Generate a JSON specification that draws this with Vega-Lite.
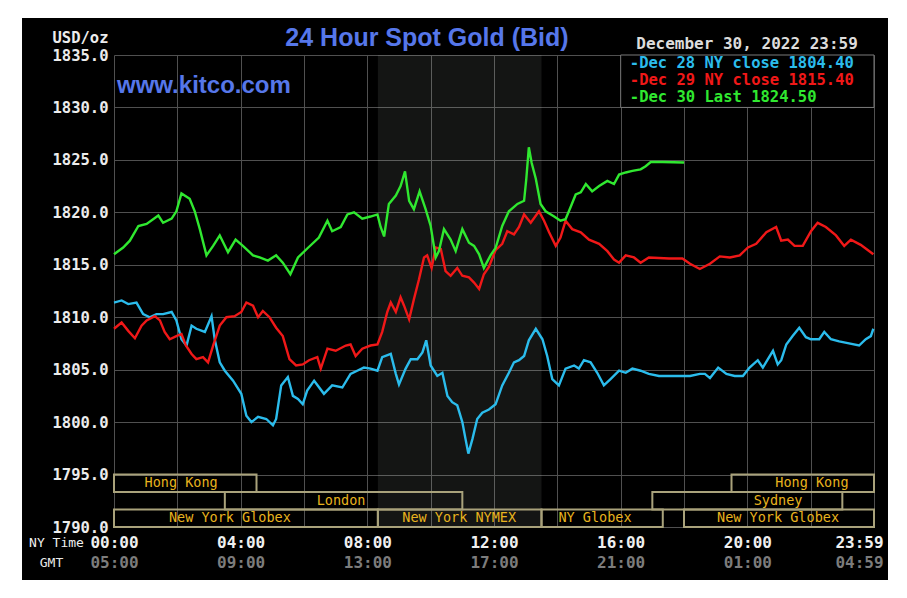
{
"$schema":"https://vega.github.io/schema/vega-lite/v6.json",
"width":760,"height":472,
"autosize":{"type":"none"},
"padding":{"left":114,"top":55,"right":33,"bottom":71},
"background":"#000000",
"config":{"view":{"stroke":null,"fill":"#000000"}},
"title":{"text":"24 Hour Spot Gold (Bid)","color":"#5677ea","font":"Liberation Sans","fontSize":25,"fontWeight":"bold","anchor":"middle","frame":"group","dx":-67,"offset":0,"dy":51},
"datasets":{
"gold":[
{"s":"Dec 28","h":0,"v":1811.4},{"s":"Dec 28","h":0.24,"v":1811.6},{"s":"Dec 28","h":0.45,"v":1811.25},{"s":"Dec 28","h":0.71,"v":1811.4},{"s":"Dec 28","h":0.92,"v":1810.3},{"s":"Dec 28","h":1.13,"v":1810.0},{"s":"Dec 28","h":1.34,"v":1810.3},{"s":"Dec 28","h":1.55,"v":1810.3},{"s":"Dec 28","h":1.82,"v":1810.5},{"s":"Dec 28","h":1.97,"v":1809.7},{"s":"Dec 28","h":2.13,"v":1807.9},{"s":"Dec 28","h":2.29,"v":1807.3},{"s":"Dec 28","h":2.45,"v":1809.2},{"s":"Dec 28","h":2.6,"v":1808.9},{"s":"Dec 28","h":2.87,"v":1808.6},{"s":"Dec 28","h":3.08,"v":1810.1},{"s":"Dec 28","h":3.18,"v":1807.9},{"s":"Dec 28","h":3.34,"v":1805.7},{"s":"Dec 28","h":3.5,"v":1804.9},{"s":"Dec 28","h":3.76,"v":1803.95},{"s":"Dec 28","h":4.02,"v":1802.7},{"s":"Dec 28","h":4.18,"v":1800.6},{"s":"Dec 28","h":4.34,"v":1800.0},{"s":"Dec 28","h":4.55,"v":1800.5},{"s":"Dec 28","h":4.81,"v":1800.3},{"s":"Dec 28","h":5.02,"v":1799.7},{"s":"Dec 28","h":5.12,"v":1800.3},{"s":"Dec 28","h":5.28,"v":1803.5},{"s":"Dec 28","h":5.49,"v":1804.3},{"s":"Dec 28","h":5.65,"v":1802.5},{"s":"Dec 28","h":5.81,"v":1802.2},{"s":"Dec 28","h":5.96,"v":1801.7},{"s":"Dec 28","h":6.1,"v":1803.0},{"s":"Dec 28","h":6.32,"v":1803.95},{"s":"Dec 28","h":6.63,"v":1802.7},{"s":"Dec 28","h":6.89,"v":1803.5},{"s":"Dec 28","h":7.21,"v":1803.3},{"s":"Dec 28","h":7.47,"v":1804.6},{"s":"Dec 28","h":7.68,"v":1804.9},{"s":"Dec 28","h":7.89,"v":1805.2},{"s":"Dec 28","h":8.1,"v":1805.1},{"s":"Dec 28","h":8.32,"v":1804.9},{"s":"Dec 28","h":8.47,"v":1806.2},{"s":"Dec 28","h":8.74,"v":1806.5},{"s":"Dec 28","h":8.9,"v":1804.6},{"s":"Dec 28","h":9.0,"v":1803.6},{"s":"Dec 28","h":9.21,"v":1805.1},{"s":"Dec 28","h":9.37,"v":1806.0},{"s":"Dec 28","h":9.58,"v":1806.0},{"s":"Dec 28","h":9.74,"v":1806.65},{"s":"Dec 28","h":9.86,"v":1807.8},{"s":"Dec 28","h":10.0,"v":1805.4},{"s":"Dec 28","h":10.21,"v":1804.4},{"s":"Dec 28","h":10.37,"v":1804.7},{"s":"Dec 28","h":10.53,"v":1802.5},{"s":"Dec 28","h":10.68,"v":1801.9},{"s":"Dec 28","h":10.84,"v":1801.6},{"s":"Dec 28","h":11.0,"v":1800.0},{"s":"Dec 28","h":11.1,"v":1798.4},{"s":"Dec 28","h":11.19,"v":1797.0},{"s":"Dec 28","h":11.32,"v":1798.4},{"s":"Dec 28","h":11.47,"v":1800.3},{"s":"Dec 28","h":11.63,"v":1800.9},{"s":"Dec 28","h":11.84,"v":1801.2},{"s":"Dec 28","h":12.05,"v":1801.7},{"s":"Dec 28","h":12.26,"v":1803.5},{"s":"Dec 28","h":12.47,"v":1804.7},{"s":"Dec 28","h":12.63,"v":1805.7},{"s":"Dec 28","h":12.79,"v":1805.9},{"s":"Dec 28","h":12.95,"v":1806.3},{"s":"Dec 28","h":13.1,"v":1807.8},{"s":"Dec 28","h":13.32,"v":1808.9},{"s":"Dec 28","h":13.53,"v":1807.9},{"s":"Dec 28","h":13.68,"v":1806.3},{"s":"Dec 28","h":13.84,"v":1804.1},{"s":"Dec 28","h":14.05,"v":1803.5},{"s":"Dec 28","h":14.26,"v":1805.1},{"s":"Dec 28","h":14.53,"v":1805.4},{"s":"Dec 28","h":14.68,"v":1805.1},{"s":"Dec 28","h":14.84,"v":1805.9},{"s":"Dec 28","h":15.05,"v":1805.7},{"s":"Dec 28","h":15.26,"v":1804.7},{"s":"Dec 28","h":15.47,"v":1803.5},{"s":"Dec 28","h":15.68,"v":1804.1},{"s":"Dec 28","h":15.95,"v":1804.9},{"s":"Dec 28","h":16.16,"v":1804.7},{"s":"Dec 28","h":16.37,"v":1805.1},{"s":"Dec 28","h":16.63,"v":1804.9},{"s":"Dec 28","h":16.89,"v":1804.6},{"s":"Dec 28","h":17.21,"v":1804.4},{"s":"Dec 28","h":17.63,"v":1804.4},{"s":"Dec 28","h":17.95,"v":1804.4},{"s":"Dec 28","h":18.19,"v":1804.4},{"s":"Dec 28","h":18.5,"v":1804.6},{"s":"Dec 28","h":18.66,"v":1804.6},{"s":"Dec 28","h":18.82,"v":1804.2},{"s":"Dec 28","h":19.08,"v":1805.2},{"s":"Dec 28","h":19.34,"v":1804.6},{"s":"Dec 28","h":19.6,"v":1804.4},{"s":"Dec 28","h":19.86,"v":1804.4},{"s":"Dec 28","h":20.07,"v":1805.2},{"s":"Dec 28","h":20.33,"v":1805.9},{"s":"Dec 28","h":20.49,"v":1805.2},{"s":"Dec 28","h":20.65,"v":1806.0},{"s":"Dec 28","h":20.81,"v":1806.8},{"s":"Dec 28","h":20.96,"v":1805.5},{"s":"Dec 28","h":21.07,"v":1805.9},{"s":"Dec 28","h":21.23,"v":1807.4},{"s":"Dec 28","h":21.43,"v":1808.2},{"s":"Dec 28","h":21.64,"v":1809.0},{"s":"Dec 28","h":21.85,"v":1808.1},{"s":"Dec 28","h":22.01,"v":1807.9},{"s":"Dec 28","h":22.27,"v":1807.9},{"s":"Dec 28","h":22.43,"v":1808.6},{"s":"Dec 28","h":22.64,"v":1807.9},{"s":"Dec 28","h":22.9,"v":1807.7},{"s":"Dec 28","h":23.21,"v":1807.5},{"s":"Dec 28","h":23.53,"v":1807.3},{"s":"Dec 28","h":23.74,"v":1807.9},{"s":"Dec 28","h":23.9,"v":1808.2},{"s":"Dec 28","h":23.98,"v":1808.9},
{"s":"Dec 29","h":0,"v":1808.9},{"s":"Dec 29","h":0.24,"v":1809.5},{"s":"Dec 29","h":0.45,"v":1808.7},{"s":"Dec 29","h":0.66,"v":1808.0},{"s":"Dec 29","h":0.87,"v":1809.2},{"s":"Dec 29","h":1.03,"v":1809.7},{"s":"Dec 29","h":1.29,"v":1810.1},{"s":"Dec 29","h":1.45,"v":1809.7},{"s":"Dec 29","h":1.6,"v":1808.6},{"s":"Dec 29","h":1.76,"v":1807.9},{"s":"Dec 29","h":1.97,"v":1808.2},{"s":"Dec 29","h":2.13,"v":1808.4},{"s":"Dec 29","h":2.27,"v":1807.3},{"s":"Dec 29","h":2.45,"v":1806.5},{"s":"Dec 29","h":2.6,"v":1806.0},{"s":"Dec 29","h":2.81,"v":1806.2},{"s":"Dec 29","h":2.97,"v":1805.7},{"s":"Dec 29","h":3.13,"v":1807.3},{"s":"Dec 29","h":3.34,"v":1809.2},{"s":"Dec 29","h":3.55,"v":1810.0},{"s":"Dec 29","h":3.81,"v":1810.1},{"s":"Dec 29","h":4.02,"v":1810.5},{"s":"Dec 29","h":4.18,"v":1811.4},{"s":"Dec 29","h":4.39,"v":1811.1},{"s":"Dec 29","h":4.55,"v":1810.0},{"s":"Dec 29","h":4.7,"v":1810.6},{"s":"Dec 29","h":4.91,"v":1810.0},{"s":"Dec 29","h":5.12,"v":1809.0},{"s":"Dec 29","h":5.33,"v":1808.2},{"s":"Dec 29","h":5.54,"v":1806.0},{"s":"Dec 29","h":5.75,"v":1805.4},{"s":"Dec 29","h":5.96,"v":1805.5},{"s":"Dec 29","h":6.16,"v":1805.9},{"s":"Dec 29","h":6.42,"v":1806.2},{"s":"Dec 29","h":6.53,"v":1805.1},{"s":"Dec 29","h":6.74,"v":1807.0},{"s":"Dec 29","h":7.0,"v":1806.8},{"s":"Dec 29","h":7.32,"v":1807.3},{"s":"Dec 29","h":7.47,"v":1807.4},{"s":"Dec 29","h":7.63,"v":1806.3},{"s":"Dec 29","h":7.84,"v":1807.0},{"s":"Dec 29","h":8.1,"v":1807.3},{"s":"Dec 29","h":8.32,"v":1807.4},{"s":"Dec 29","h":8.47,"v":1808.6},{"s":"Dec 29","h":8.63,"v":1810.5},{"s":"Dec 29","h":8.74,"v":1811.4},{"s":"Dec 29","h":8.9,"v":1810.5},{"s":"Dec 29","h":9.05,"v":1811.9},{"s":"Dec 29","h":9.16,"v":1811.1},{"s":"Dec 29","h":9.32,"v":1809.8},{"s":"Dec 29","h":9.47,"v":1811.7},{"s":"Dec 29","h":9.63,"v":1813.6},{"s":"Dec 29","h":9.79,"v":1815.7},{"s":"Dec 29","h":9.89,"v":1815.9},{"s":"Dec 29","h":10.03,"v":1814.7},{"s":"Dec 29","h":10.16,"v":1816.65},{"s":"Dec 29","h":10.32,"v":1816.5},{"s":"Dec 29","h":10.47,"v":1814.4},{"s":"Dec 29","h":10.63,"v":1813.95},{"s":"Dec 29","h":10.84,"v":1814.7},{"s":"Dec 29","h":11.0,"v":1813.95},{"s":"Dec 29","h":11.21,"v":1813.8},{"s":"Dec 29","h":11.37,"v":1813.3},{"s":"Dec 29","h":11.53,"v":1812.7},{"s":"Dec 29","h":11.68,"v":1814.1},{"s":"Dec 29","h":11.84,"v":1814.8},{"s":"Dec 29","h":12.05,"v":1816.4},{"s":"Dec 29","h":12.26,"v":1817.0},{"s":"Dec 29","h":12.42,"v":1818.2},{"s":"Dec 29","h":12.63,"v":1817.9},{"s":"Dec 29","h":12.79,"v":1818.6},{"s":"Dec 29","h":12.95,"v":1819.8},{"s":"Dec 29","h":13.16,"v":1819.0},{"s":"Dec 29","h":13.42,"v":1820.1},{"s":"Dec 29","h":13.58,"v":1819.2},{"s":"Dec 29","h":13.74,"v":1818.1},{"s":"Dec 29","h":13.95,"v":1816.8},{"s":"Dec 29","h":14.1,"v":1817.6},{"s":"Dec 29","h":14.26,"v":1819.2},{"s":"Dec 29","h":14.47,"v":1818.4},{"s":"Dec 29","h":14.74,"v":1818.1},{"s":"Dec 29","h":15.0,"v":1817.4},{"s":"Dec 29","h":15.32,"v":1817.0},{"s":"Dec 29","h":15.58,"v":1816.3},{"s":"Dec 29","h":15.79,"v":1815.5},{"s":"Dec 29","h":15.95,"v":1815.2},{"s":"Dec 29","h":16.16,"v":1815.9},{"s":"Dec 29","h":16.42,"v":1815.7},{"s":"Dec 29","h":16.63,"v":1815.2},{"s":"Dec 29","h":16.89,"v":1815.7},{"s":"Dec 29","h":17.53,"v":1815.6},{"s":"Dec 29","h":17.95,"v":1815.6},{"s":"Dec 29","h":18.19,"v":1815.1},{"s":"Dec 29","h":18.5,"v":1814.6},{"s":"Dec 29","h":18.82,"v":1815.1},{"s":"Dec 29","h":19.13,"v":1815.8},{"s":"Dec 29","h":19.45,"v":1815.7},{"s":"Dec 29","h":19.76,"v":1815.9},{"s":"Dec 29","h":20.02,"v":1816.65},{"s":"Dec 29","h":20.28,"v":1817.0},{"s":"Dec 29","h":20.6,"v":1818.1},{"s":"Dec 29","h":20.91,"v":1818.6},{"s":"Dec 29","h":21.07,"v":1817.3},{"s":"Dec 29","h":21.28,"v":1817.4},{"s":"Dec 29","h":21.49,"v":1816.8},{"s":"Dec 29","h":21.75,"v":1816.8},{"s":"Dec 29","h":22.01,"v":1818.2},{"s":"Dec 29","h":22.22,"v":1819.0},{"s":"Dec 29","h":22.48,"v":1818.6},{"s":"Dec 29","h":22.8,"v":1817.8},{"s":"Dec 29","h":23.06,"v":1816.8},{"s":"Dec 29","h":23.27,"v":1817.4},{"s":"Dec 29","h":23.58,"v":1816.9},{"s":"Dec 29","h":23.98,"v":1816.0},
{"s":"Dec 30","h":0,"v":1816.0},{"s":"Dec 30","h":0.29,"v":1816.65},{"s":"Dec 30","h":0.5,"v":1817.3},{"s":"Dec 30","h":0.77,"v":1818.7},{"s":"Dec 30","h":1.03,"v":1818.9},{"s":"Dec 30","h":1.4,"v":1819.7},{"s":"Dec 30","h":1.55,"v":1819.0},{"s":"Dec 30","h":1.82,"v":1819.4},{"s":"Dec 30","h":1.97,"v":1820.1},{"s":"Dec 30","h":2.13,"v":1821.8},{"s":"Dec 30","h":2.39,"v":1821.3},{"s":"Dec 30","h":2.55,"v":1820.1},{"s":"Dec 30","h":2.71,"v":1818.4},{"s":"Dec 30","h":2.92,"v":1815.9},{"s":"Dec 30","h":3.13,"v":1816.8},{"s":"Dec 30","h":3.34,"v":1817.8},{"s":"Dec 30","h":3.6,"v":1816.2},{"s":"Dec 30","h":3.84,"v":1817.4},{"s":"Dec 30","h":4.07,"v":1816.8},{"s":"Dec 30","h":4.39,"v":1815.9},{"s":"Dec 30","h":4.6,"v":1815.7},{"s":"Dec 30","h":4.86,"v":1815.4},{"s":"Dec 30","h":5.12,"v":1815.9},{"s":"Dec 30","h":5.33,"v":1815.2},{"s":"Dec 30","h":5.57,"v":1814.1},{"s":"Dec 30","h":5.81,"v":1815.7},{"s":"Dec 30","h":6.12,"v":1816.6},{"s":"Dec 30","h":6.47,"v":1817.6},{"s":"Dec 30","h":6.74,"v":1819.2},{"s":"Dec 30","h":6.89,"v":1818.2},{"s":"Dec 30","h":7.16,"v":1818.6},{"s":"Dec 30","h":7.37,"v":1819.8},{"s":"Dec 30","h":7.58,"v":1820.0},{"s":"Dec 30","h":7.84,"v":1819.4},{"s":"Dec 30","h":8.1,"v":1819.6},{"s":"Dec 30","h":8.32,"v":1819.8},{"s":"Dec 30","h":8.42,"v":1818.6},{"s":"Dec 30","h":8.53,"v":1817.7},{"s":"Dec 30","h":8.68,"v":1820.8},{"s":"Dec 30","h":8.9,"v":1821.6},{"s":"Dec 30","h":9.05,"v":1822.5},{"s":"Dec 30","h":9.19,"v":1823.9},{"s":"Dec 30","h":9.32,"v":1821.1},{"s":"Dec 30","h":9.47,"v":1820.3},{"s":"Dec 30","h":9.65,"v":1822.0},{"s":"Dec 30","h":9.84,"v":1820.3},{"s":"Dec 30","h":10.0,"v":1818.7},{"s":"Dec 30","h":10.16,"v":1815.7},{"s":"Dec 30","h":10.26,"v":1816.3},{"s":"Dec 30","h":10.42,"v":1818.4},{"s":"Dec 30","h":10.63,"v":1817.4},{"s":"Dec 30","h":10.79,"v":1816.3},{"s":"Dec 30","h":11.0,"v":1818.4},{"s":"Dec 30","h":11.21,"v":1817.1},{"s":"Dec 30","h":11.37,"v":1816.8},{"s":"Dec 30","h":11.53,"v":1816.0},{"s":"Dec 30","h":11.68,"v":1814.7},{"s":"Dec 30","h":11.89,"v":1815.9},{"s":"Dec 30","h":12.05,"v":1816.6},{"s":"Dec 30","h":12.26,"v":1818.7},{"s":"Dec 30","h":12.47,"v":1820.1},{"s":"Dec 30","h":12.74,"v":1820.8},{"s":"Dec 30","h":12.95,"v":1821.1},{"s":"Dec 30","h":13.02,"v":1823.2},{"s":"Dec 30","h":13.1,"v":1826.2},{"s":"Dec 30","h":13.19,"v":1824.7},{"s":"Dec 30","h":13.32,"v":1823.2},{"s":"Dec 30","h":13.47,"v":1820.8},{"s":"Dec 30","h":13.63,"v":1820.1},{"s":"Dec 30","h":13.9,"v":1819.6},{"s":"Dec 30","h":14.1,"v":1819.2},{"s":"Dec 30","h":14.26,"v":1819.35},{"s":"Dec 30","h":14.42,"v":1820.5},{"s":"Dec 30","h":14.58,"v":1821.7},{"s":"Dec 30","h":14.74,"v":1821.9},{"s":"Dec 30","h":14.9,"v":1822.7},{"s":"Dec 30","h":15.1,"v":1822.0},{"s":"Dec 30","h":15.32,"v":1822.5},{"s":"Dec 30","h":15.58,"v":1823.0},{"s":"Dec 30","h":15.79,"v":1822.7},{"s":"Dec 30","h":15.95,"v":1823.6},{"s":"Dec 30","h":16.16,"v":1823.8},{"s":"Dec 30","h":16.37,"v":1823.95},{"s":"Dec 30","h":16.63,"v":1824.1},{"s":"Dec 30","h":16.79,"v":1824.4},{"s":"Dec 30","h":16.95,"v":1824.8},{"s":"Dec 30","h":17.32,"v":1824.8},{"s":"Dec 30","h":18.0,"v":1824.75}
],
"sessions":[
{"session":"Hong Kong","start":0,"end":4.5,"top":1795,"bottom":1793.333,"label_at":2.12},
{"session":"London","start":3.5,"end":11.0,"top":1793.333,"bottom":1791.667,"label_at":7.17},
{"session":"New York Globex","start":0,"end":8.333,"top":1791.667,"bottom":1790,"label_at":3.66},
{"session":"New York NYMEX","start":8.333,"end":13.5,"top":1791.667,"bottom":1790,"label_at":10.9},
{"session":"NY Globex","start":13.5,"end":17.33,"top":1791.667,"bottom":1790,"label_at":15.19},
{"session":"Sydney","start":17.0,"end":23.0,"top":1793.333,"bottom":1791.667,"label_at":20.97},
{"session":"New York Globex","start":18.0,"end":24,"top":1791.667,"bottom":1790,"label_at":20.97},
{"session":"Hong Kong","start":19.5,"end":24,"top":1795,"bottom":1793.333,"label_at":22.04}
]
},
"layer":[
{"data":{"name":"sessions"},
 "transform":[{"filter":"datum.session == 'New York NYMEX'"}],
 "mark":{"type":"rect","fill":"#dfeadf","opacity":0.09},
 "encoding":{
  "x":{"field":"start","type":"quantitative","scale":{"domain":[0,24],"nice":false,"zero":false},"axis":null},
  "x2":{"field":"end"},
  "y":{"datum":1790,"type":"quantitative","scale":{"domain":[1790,1835],"nice":false,"zero":false},"axis":null},
  "y2":{"datum":1835}
 }},
{"data":{"name":"sessions"},
 "mark":{"type":"rect","filled":false,"color":"#a9a27b","strokeWidth":2},
 "encoding":{
  "x":{"field":"start","type":"quantitative","scale":{"domain":[0,24],"nice":false,"zero":false},
   "axis":{"orient":"bottom","values":[0,4,8,12,16,20,24],"grid":false,"domain":false,"ticks":false,"tickSize":0,"offset":20,"labelPadding":15,"labelBaseline":"middle","labelFont":"DejaVu Sans Mono","labelFontWeight":"bold","labelFontSize":16,"labelColor":"#7c7c7c","labelFlush":false,"labelOverlap":false,"labelBound":false,
    "labelExpr":"datum.value == 24 ? '04:59' : ((((datum.value + 5) % 24) < 10 ? '0' : '') + ((datum.value + 5) % 24) + ':00')",
    "labelOffset":{"condition":{"test":"datum.value == 24","value":-15},"value":0},
    "title":"GMT","titleX":-63,"titleY":15,"titleAlign":"center","titleBaseline":"middle","titleAngle":0,"titleFont":"DejaVu Sans Mono","titleFontWeight":"normal","titleFontSize":13,"titleColor":"#e8e8e8"}},
  "x2":{"field":"end"},
  "y":{"field":"top","type":"quantitative","scale":{"domain":[1790,1835],"nice":false,"zero":false},"axis":null},
  "y2":{"field":"bottom"}
 }},
{"data":{"name":"sessions"},
 "transform":[{"calculate":"(datum.top + datum.bottom) / 2","as":"mid"}],
 "mark":{"type":"text","font":"DejaVu Sans Mono","fontSize":13.5,"color":"#e8b31e","align":"center","baseline":"middle"},
 "encoding":{
  "x":{"field":"label_at","type":"quantitative","scale":{"domain":[0,24],"nice":false,"zero":false},"axis":null},
  "y":{"field":"mid","type":"quantitative","scale":{"domain":[1790,1835],"nice":false,"zero":false},"axis":null},
  "text":{"field":"session"}
 }},
{"data":{"name":"gold"},
 "mark":{"type":"line","strokeWidth":2.4},
 "encoding":{
  "x":{"field":"h","type":"quantitative","scale":{"domain":[0,24],"nice":false,"zero":false},
   "axis":{"orient":"bottom","values":[0,2,4,6,8,10,12,14,16,18,20,22,24],"grid":true,"gridColor":"#505050","gridWidth":1,"domain":false,"ticks":false,"tickSize":0,"labelPadding":15,"labelBaseline":"middle","labelFont":"DejaVu Sans Mono","labelFontWeight":"bold","labelFontSize":16,"labelColor":"#f0f0f0","labelFlush":false,"labelOverlap":false,"labelBound":false,
    "labelExpr":"datum.value == 24 ? '23:59' : (datum.value % 4 == 0 ? ((datum.value < 10 ? '0' : '') + datum.value + ':00') : '')",
    "labelOffset":{"condition":{"test":"datum.value == 24","value":-15},"value":0},
    "title":"NY Time","titleX":-58,"titleY":15,"titleAlign":"center","titleBaseline":"middle","titleAngle":0,"titleFont":"DejaVu Sans Mono","titleFontWeight":"normal","titleFontSize":13,"titleColor":"#f0f0f0"}},
  "y":{"field":"v","type":"quantitative","scale":{"domain":[1790,1835],"nice":false,"zero":false},
   "axis":{"orient":"left","values":[1790,1795,1800,1805,1810,1815,1820,1825,1830,1835],"grid":true,"gridColor":"#505050","gridWidth":1,"domain":false,"ticks":false,"tickSize":0,"labelPadding":6,"format":".1f","labelFont":"DejaVu Sans Mono","labelFontWeight":"bold","labelFontSize":15.5,"labelColor":"#ececec","labelOverlap":false,"labelBound":false,"labelFlush":false,
    "title":"USD/oz","titleAngle":0,"titleX":-6,"titleY":-18,"titleAlign":"right","titleBaseline":"middle","titleFont":"DejaVu Sans Mono","titleFontWeight":"bold","titleFontSize":15.5,"titleColor":"#ececec"}},
  "color":{"field":"s","type":"nominal","scale":{"domain":["Dec 28","Dec 29","Dec 30"],"range":["#2bbcec","#f01818","#30e830"]},"legend":null}
 }},
{"data":{"values":[{}]},
 "mark":{"type":"rect","fill":"#000000","stroke":"#7a7a7a","strokeWidth":1,"clip":false},
 "encoding":{
  "x":{"datum":16.0,"type":"quantitative","scale":{"domain":[0,24],"nice":false,"zero":false},"axis":null},
  "x2":{"datum":24},
  "y":{"datum":1830,"type":"quantitative","scale":{"domain":[1790,1835],"nice":false,"zero":false},"axis":null},
  "y2":{"datum":1835}
 }},
{"data":{"values":[{}]},
 "mark":{"type":"text","text":"-Dec 28 NY close 1804.40","font":"DejaVu Sans Mono","fontWeight":"bold","fontSize":15.5,"color":"#2bbcec","align":"left","baseline":"middle","clip":false},
 "encoding":{
  "x":{"datum":16.29,"type":"quantitative","scale":{"domain":[0,24],"nice":false,"zero":false},"axis":null},
  "y":{"datum":1834.24,"type":"quantitative","scale":{"domain":[1790,1835],"nice":false,"zero":false},"axis":null}
 }},
{"data":{"values":[{}]},
 "mark":{"type":"text","text":"-Dec 29 NY close 1815.40","font":"DejaVu Sans Mono","fontWeight":"bold","fontSize":15.5,"color":"#f01818","align":"left","baseline":"middle","clip":false},
 "encoding":{
  "x":{"datum":16.29,"type":"quantitative","scale":{"domain":[0,24],"nice":false,"zero":false},"axis":null},
  "y":{"datum":1832.62,"type":"quantitative","scale":{"domain":[1790,1835],"nice":false,"zero":false},"axis":null}
 }},
{"data":{"values":[{}]},
 "mark":{"type":"text","text":"-Dec 30 Last 1824.50","font":"DejaVu Sans Mono","fontWeight":"bold","fontSize":15.5,"color":"#30e830","align":"left","baseline":"middle","clip":false},
 "encoding":{
  "x":{"datum":16.29,"type":"quantitative","scale":{"domain":[0,24],"nice":false,"zero":false},"axis":null},
  "y":{"datum":1831.0,"type":"quantitative","scale":{"domain":[1790,1835],"nice":false,"zero":false},"axis":null}
 }},
{"data":{"values":[{}]},
 "mark":{"type":"text","text":"December 30, 2022 23:59","font":"DejaVu Sans Mono","fontWeight":"bold","fontSize":16,"color":"#dcdcdc","align":"right","baseline":"middle","clip":false},
 "encoding":{
  "x":{"datum":23.49,"type":"quantitative","scale":{"domain":[0,24],"nice":false,"zero":false},"axis":null},
  "y":{"datum":1836.05,"type":"quantitative","scale":{"domain":[1790,1835],"nice":false,"zero":false},"axis":null}
 }},
{"data":{"values":[{}]},
 "mark":{"type":"text","text":"www.kitco.com","font":"Liberation Sans","fontWeight":"bold","fontSize":24,"color":"#5677ea","align":"left","baseline":"alphabetic","clip":false},
 "encoding":{
  "x":{"datum":0.095,"type":"quantitative","scale":{"domain":[0,24],"nice":false,"zero":false},"axis":null},
  "y":{"datum":1831.4,"type":"quantitative","scale":{"domain":[1790,1835],"nice":false,"zero":false},"axis":null}
 }},
{"data":{"values":[{}]},
 "mark":{"type":"rect","fill":"#ffffff","clip":false},
 "encoding":{
  "x":{"datum":-3.6,"type":"quantitative","scale":{"domain":[0,24],"nice":false,"zero":false},"axis":null},
  "x2":{"datum":-2.905},
  "y":{"datum":1783.2,"type":"quantitative","scale":{"domain":[1790,1835],"nice":false,"zero":false},"axis":null},
  "y2":{"datum":1840.25}
 }},
{"data":{"values":[{}]},
 "mark":{"type":"rect","fill":"#ffffff","clip":false},
 "encoding":{
  "x":{"datum":24.442,"type":"quantitative","scale":{"domain":[0,24],"nice":false,"zero":false},"axis":null},
  "x2":{"datum":25.05},
  "y":{"datum":1783.2,"type":"quantitative","scale":{"domain":[1790,1835],"nice":false,"zero":false},"axis":null},
  "y2":{"datum":1840.25}
 }},
{"data":{"values":[{}]},
 "mark":{"type":"rect","fill":"#ffffff","clip":false},
 "encoding":{
  "x":{"datum":-3.6,"type":"quantitative","scale":{"domain":[0,24],"nice":false,"zero":false},"axis":null},
  "x2":{"datum":25.05},
  "y":{"datum":1838.53,"type":"quantitative","scale":{"domain":[1790,1835],"nice":false,"zero":false},"axis":null},
  "y2":{"datum":1840.25}
 }},
{"data":{"values":[{}]},
 "mark":{"type":"rect","fill":"#ffffff","clip":false},
 "encoding":{
  "x":{"datum":-3.6,"type":"quantitative","scale":{"domain":[0,24],"nice":false,"zero":false},"axis":null},
  "x2":{"datum":25.05},
  "y":{"datum":1783.2,"type":"quantitative","scale":{"domain":[1790,1835],"nice":false,"zero":false},"axis":null},
  "y2":{"datum":1784.95}
 }}
],
"resolve":{"axis":{"x":"independent","y":"independent"}}
}
